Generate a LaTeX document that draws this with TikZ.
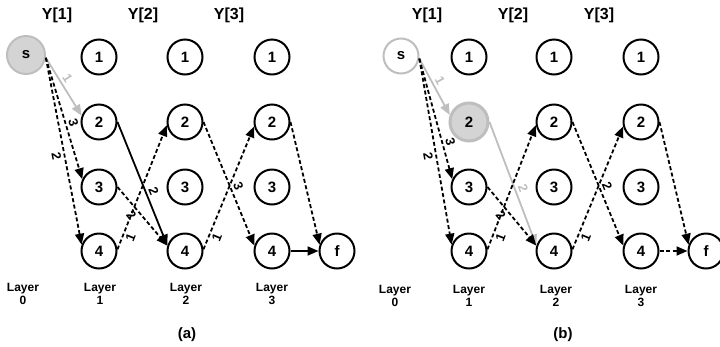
\documentclass[tikz,border=0pt]{standalone}
\usepackage{fontspec}
\setmainfont{Liberation Sans}
\usetikzlibrary{arrows.meta}
\definecolor{pathgrey}{RGB}{190,190,190}
\definecolor{fillgrey}{RGB}{212,212,212}

\begin{document}
\begin{tikzpicture}[x=1pt, y=-1pt,
  vertex/.style={circle, draw, line width=2pt, minimum size=35pt, inner sep=0pt, font=\fontsize{15}{15}\selectfont\bfseries},
  edge/.style={line width=1.8pt, -{Triangle[length=11pt, width=9pt]}},
  dashedge/.style={edge, dash pattern=on 4pt off 2.5pt},
  greyedge/.style={edge, draw=pathgrey},
  weight/.style={sloped, inner sep=2.5pt, font=\fontsize{13}{13}\selectfont\bfseries},
  header/.style={font=\fontsize{16}{16}\selectfont\bfseries},
  layer/.style={align=center, font=\fontsize{12}{13}\selectfont\bfseries},
  caption/.style={font=\fontsize{15}{15}\selectfont\bfseries}]
  \useasboundingbox (0,0) rectangle (720,346);

  % (a)
  \node[header] (Ya1) at (57,15) {Y[1]};
  \node[header] (Ya2) at (143,15) {Y[2]};
  \node[header] (Ya3) at (229,15) {Y[3]};

  \node[vertex, draw=pathgrey, fill=fillgrey, minimum size=38pt, line width=2pt] (Sa) at (26,55) {s};
  \node[vertex] (a11) at (99,57) {1};
  \node[vertex] (a12) at (99,122) {2};
  \node[vertex] (a13) at (99,187) {3};
  \node[vertex] (a14) at (99,251) {4};
  \node[vertex] (a21) at (185,57) {1};
  \node[vertex] (a22) at (185,122) {2};
  \node[vertex] (a23) at (185,187) {3};
  \node[vertex] (a24) at (185,251) {4};
  \node[vertex] (a31) at (272,57) {1};
  \node[vertex] (a32) at (272,122) {2};
  \node[vertex] (a33) at (272,187) {3};
  \node[vertex] (a34) at (272,251) {4};
  \node[vertex] (Fa) at (337,251) {f};

  \draw[greyedge] (Sa.-8) -- node[weight, above, pos=0.42, text=pathgrey] {1} (a12.160);
  \draw[dashedge] (Sa.-8) -- node[weight, above, pos=0.55] {3} (a13.155);
  \draw[dashedge] (Sa.-8) -- node[weight, below, pos=0.52] {2} (a14.160);
  \draw[edge] (a12.east) -- node[weight, above, pos=0.58] {2} (a24.163);
  \draw[dashedge] (a13.east) -- node[weight, below, pos=0.4] {2} (a24.163);
  \draw[dashedge] (a14.5) -- node[weight, below, pos=0.12] {1} (a22.190);
  \draw[dashedge] (a22.east) -- node[weight, above, pos=0.54] {3} (a34.163);
  \draw[dashedge] (a24.5) -- node[weight, below, pos=0.12] {1} (a32.194);
  \draw[dashedge] (a32.east) -- (Fa.160);
  \draw[edge] (a34.east) -- (Fa.west);

  \node[layer] (La0) at (23,294) {Layer\\0};
  \node[layer] (La1) at (100,294) {Layer\\1};
  \node[layer] (La2) at (186,294) {Layer\\2};
  \node[layer] (La3) at (272,294) {Layer\\3};
  \node[caption] (capA) at (187,335) {(a)};

  % (b)
  \node[header] (Yb1) at (427,15) {Y[1]};
  \node[header] (Yb2) at (513,15) {Y[2]};
  \node[header] (Yb3) at (599,15) {Y[3]};

  \node[vertex, draw=pathgrey] (Sb) at (401,56) {s};
  \node[vertex] (b11) at (469,57) {1};
  \node[vertex, draw=pathgrey, fill=fillgrey, minimum size=38pt, line width=3pt] (b12) at (469,122) {2};
  \node[vertex] (b13) at (469,187) {3};
  \node[vertex] (b14) at (469,251) {4};
  \node[vertex] (b21) at (554,57) {1};
  \node[vertex] (b22) at (554,122) {2};
  \node[vertex] (b23) at (554,187) {3};
  \node[vertex] (b24) at (554,251) {4};
  \node[vertex] (b31) at (641,57) {1};
  \node[vertex] (b32) at (641,122) {2};
  \node[vertex] (b33) at (641,187) {3};
  \node[vertex] (b34) at (641,251) {4};
  \node[vertex] (Fb) at (706,251) {f};

  \draw[greyedge] (Sb.-8) -- node[weight, above, pos=0.45, text=pathgrey] {1} (b12.160);
  \draw[dashedge] (Sb.-8) -- node[weight, above, pos=0.71] {3} (b13.155);
  \draw[dashedge] (Sb.-8) -- node[weight, below, pos=0.52] {2} (b14.160);
  \draw[greyedge] (b12.east) -- node[weight, above, pos=0.56, text=pathgrey] {2} (b24.163);
  \draw[dashedge] (b13.east) -- node[weight, below, pos=0.4] {2} (b24.163);
  \draw[dashedge] (b14.5) -- node[weight, below, pos=0.12] {1} (b22.190);
  \draw[dashedge] (b22.east) -- node[weight, above, pos=0.54] {2} (b34.163);
  \draw[dashedge] (b24.5) -- node[weight, below, pos=0.12] {1} (b32.194);
  \draw[dashedge] (b32.east) -- (Fb.160);
  \draw[dashedge] (b34.east) -- (Fb.west);

  \node[layer] (Lb0) at (395,296) {Layer\\0};
  \node[layer] (Lb1) at (469,296) {Layer\\1};
  \node[layer] (Lb2) at (556,296) {Layer\\2};
  \node[layer] (Lb3) at (641,296) {Layer\\3};
  \node[caption] (capB) at (563,335) {(b)};
\end{tikzpicture}
\end{document}
